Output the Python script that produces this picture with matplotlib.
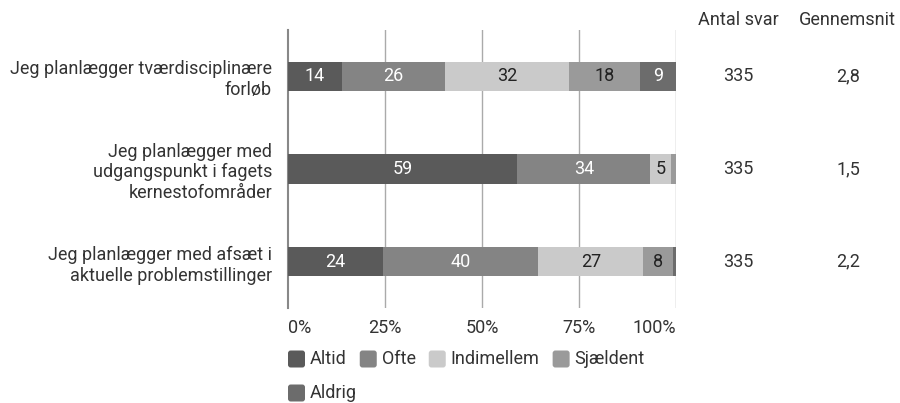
import matplotlib
matplotlib.use("Agg")
import matplotlib.pyplot as plt
from matplotlib.patches import FancyBboxPatch
import numpy as np

plt.rcParams['font.family'] = ['Roboto', 'DejaVu Sans']

questions = [
    "Jeg planlægger tværdisciplinære\nforløb",
    "Jeg planlægger med\nudgangspunkt i fagets\nkernestofområder",
    "Jeg planlægger med afsæt i\naktuelle problemstillinger",
]
categories = ["Altid", "Ofte", "Indimellem", "Sjældent", "Aldrig"]
altid = [13.9, 59.1, 24.5]
ofte = [26.5, 34.3, 40.0]
indimellem = [32.1, 5.3, 27.1]
sjaeldent = [18.3, 1.3, 7.7]
aldrig = [9.2, 0.0, 0.7]
antal_svar = [335, 335, 335]
gennemsnit = ["2,8", "1,5", "2,2"]
xticks = [0, 25, 50, 75, 100]
xticklabels = ["0%", "25%", "50%", "75%", "100%"]

colors = ["#5a5a5a", "#848484", "#cacaca", "#9a9a9a", "#6c6c6c"]
label_colors = ["white", "white", "#222222", "#222222", "white"]
text_color = "#333333"
fs = 13

W, H = 900, 403
fig = plt.figure(figsize=(W / 100, H / 100), dpi=100)
ax = fig.add_axes([288 / W, 1 - 308 / H, 388 / W, 278 / H])

series = [altid, ofte, indimellem, sjaeldent, aldrig]
y = np.arange(len(questions))
left = np.zeros(len(questions))
for s, c, lc in zip(series, colors, label_colors):
    vals = np.array(s, dtype=float)
    ax.barh(y, vals, left=left, height=0.315, color=c, zorder=3)
    for yi, (l, v) in enumerate(zip(left, vals)):
        if v >= 4:
            ax.text(l + v / 2, yi, f"{int(round(v))}", ha="center", va="center",
                    color=lc, fontsize=fs, zorder=4)
    left += vals

ax.set_xlim(0, 100)
ax.set_ylim(2.5, -0.5)
ax.set_xticks(xticks)
ax.set_xticklabels(xticklabels, fontsize=fs, color=text_color)
tl = ax.get_xticklabels()
tl[0].set_horizontalalignment("left")
tl[-1].set_horizontalalignment("right")
ax.set_yticks(y)
ax.set_yticklabels(questions, fontsize=fs, color=text_color, linespacing=1.2)
ax.tick_params(axis="both", length=0)
ax.tick_params(axis="y", pad=11.5)
ax.tick_params(axis="x", pad=8)
for sp in ["top", "right", "bottom"]:
    ax.spines[sp].set_visible(False)
ax.spines["left"].set_color("#888888")
ax.spines["left"].set_linewidth(1.5)
for xt in xticks[1:]:
    ax.axvline(xt, color="#aaaaaa", linewidth=1, zorder=1)

# Right-hand columns
def fy(py):
    return 1 - py / H

fig.text(738 / W, fy(20), "Antal svar", ha="center", va="center", fontsize=fs, color=text_color)
fig.text(847 / W, fy(20), "Gennemsnit", ha="center", va="center", fontsize=fs, color=text_color)
for yi in y:
    disp = ax.transData.transform((0, yi))
    yf = fig.transFigure.inverted().transform(disp)[1]
    fig.text(738 / W, yf, str(antal_svar[yi]), ha="center", va="center", fontsize=fs, color=text_color)
    fig.text(848 / W, yf, gennemsnit[yi], ha="center", va="center", fontsize=fs, color=text_color)

# Legend (manual, wrapping)
fig.canvas.draw()
renderer = fig.canvas.get_renderer()
box = 17
gap_text = 5
gap_item = 13
x0 = 288
x = x0
row_y = [359, 393]
row = 0
max_x = 690
for name, c in zip(categories, colors):
    t = fig.text(0, 0, name, fontsize=fs, color=text_color, va="center", ha="left")
    tw = t.get_window_extent(renderer).width
    item_w = box + gap_text + tw
    if x + item_w > max_x and x > x0:
        row += 1
        x = x0
    cy = row_y[row]
    p = FancyBboxPatch((x / W, fy(cy + box / 2)), box / W, box / H,
                       boxstyle="round,pad=0,rounding_size=0.003",
                       transform=fig.transFigure, facecolor=c, edgecolor="none",
                       mutation_aspect=W / H)
    fig.patches.append(p)
    t.set_position(((x + box + gap_text) / W, fy(cy)))
    x += item_w + gap_item

fig.savefig("out.png", dpi=100)
